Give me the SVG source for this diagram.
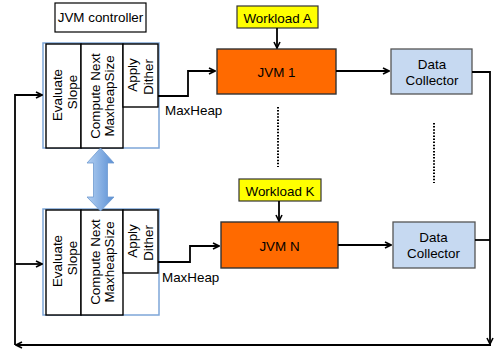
<svg xmlns="http://www.w3.org/2000/svg" width="494" height="351" viewBox="0 0 494 351">
  <style>
    text { font-family: "Liberation Sans", Arial, sans-serif; font-size: 13.4px; fill: #000; }
    .mid { text-anchor: middle; }
    .wire { fill: none; stroke: #000; stroke-width: 1.8; }
    .dots { fill: none; stroke: #000; stroke-width: 2; stroke-dasharray: 1.5 1.6; }
    .frame { fill: #fff; stroke: #7ea6d8; stroke-width: 1.5; }
    .cell { fill: #fff; stroke: #000; stroke-width: 1.4; }
    .jvm { fill: #ff6a00; stroke: #333; stroke-width: 1.4; }
    .dc { fill: #c6d9f1; stroke: #555; stroke-width: 1.3; }
    .wl { fill: #ffff00; stroke: #333; stroke-width: 1.2; }
    .label { fill: #fff; stroke: #000; stroke-width: 1.2; }
  </style>
  <defs>
    <marker id="arr" viewBox="0 0 8 8" refX="7" refY="4" markerWidth="8" markerHeight="8" markerUnits="userSpaceOnUse" orient="auto">
      <path d="M1,1 L7,4 L1,7" fill="none" stroke="#000" stroke-width="1.6"/>
    </marker>
    <linearGradient id="blueGrad" x1="0" y1="0" x2="1" y2="0">
      <stop offset="0" stop-color="#b3d0f2"/>
      <stop offset="1" stop-color="#5a8fd4"/>
    </linearGradient>
  </defs>

  <!-- title -->
  <g id="title">
    <rect class="label" x="55" y="3" width="91" height="29"/>
    <text class="mid" x="100.5" y="22">JVM controller</text>
  </g>

  <!-- controller 1 -->
  <g id="controller1">
    <rect class="frame" x="43" y="43" width="116" height="105"/>
    <rect class="cell" x="46" y="44" width="35" height="104"/>
    <rect class="cell" x="81" y="44" width="42" height="104"/>
    <rect class="cell" x="123" y="44" width="35" height="63"/>
    <text class="mid" transform="translate(62,95) rotate(-90)">Evaluate</text>
    <text class="mid" transform="translate(77,92) rotate(-90)">Slope</text>
    <text class="mid" transform="translate(99.5,96) rotate(-90)">Compute Next</text>
    <text class="mid" transform="translate(114,96) rotate(-90)">MaxheapSize</text>
    <text class="mid" transform="translate(137,75) rotate(-90)">Apply</text>
    <text class="mid" transform="translate(153,77) rotate(-90)">Dither</text>
  </g>

  <!-- controller 2 -->
  <g id="controller2">
    <rect class="frame" x="43" y="209" width="116" height="106"/>
    <rect class="cell" x="46" y="210" width="35" height="105"/>
    <rect class="cell" x="81" y="210" width="42" height="105"/>
    <rect class="cell" x="123" y="210" width="35" height="63"/>
    <text class="mid" transform="translate(62,261) rotate(-90)">Evaluate</text>
    <text class="mid" transform="translate(77,258) rotate(-90)">Slope</text>
    <text class="mid" transform="translate(99.5,262) rotate(-90)">Compute Next</text>
    <text class="mid" transform="translate(114,262) rotate(-90)">MaxheapSize</text>
    <text class="mid" transform="translate(137,241) rotate(-90)">Apply</text>
    <text class="mid" transform="translate(153,243) rotate(-90)">Dither</text>
  </g>

  <!-- state exchange between controllers -->
  <g id="sync">
    <path d="M100.5,148 L114,163 L107.5,163 L107.5,197 L114,197 L100.5,211 L87,197 L93.5,197 L93.5,163 L87,163 Z" fill="url(#blueGrad)" stroke="#6f9bd1" stroke-width="0.8"/>
  </g>

  <g id="workloadA">
    <rect class="wl" x="237" y="6" width="81" height="22"/>
    <text class="mid" x="277.5" y="22.5">Workload A</text>
  </g>
  <g id="jvm1">
    <rect class="jvm" x="217" y="49" width="119" height="45"/>
    <text class="mid" x="276.5" y="76.5">JVM 1</text>
  </g>
  <g id="collector1">
    <rect class="dc" x="391" y="49" width="81" height="45"/>
    <text class="mid" x="432" y="68.5">Data</text>
    <text class="mid" x="432" y="84.5">Collector</text>
  </g>

  <g id="workloadK">
    <rect class="wl" x="239" y="179" width="82" height="22"/>
    <text class="mid" x="280" y="196">Workload K</text>
  </g>
  <g id="jvmN">
    <rect class="jvm" x="221" y="222" width="117" height="46"/>
    <text class="mid" x="279.5" y="250.5">JVM N</text>
  </g>
  <g id="collector2">
    <rect class="dc" x="393" y="222" width="82" height="46"/>
    <text class="mid" x="433.5" y="242">Data</text>
    <text class="mid" x="433.5" y="258">Collector</text>
  </g>

  <g id="connectors">
    <!-- heap size commands -->
    <path class="wire" d="M158,96 H188 V71 H215" marker-end="url(#arr)"/>
    <path class="wire" d="M158,262 H190 V246 H219" marker-end="url(#arr)"/>
    <!-- workloads -->
    <path class="wire" d="M277,28 V48" marker-end="url(#arr)"/>
    <path class="wire" d="M279,201 V221" marker-end="url(#arr)"/>
    <!-- JVM to collectors -->
    <path class="wire" d="M336,71 H389" marker-end="url(#arr)"/>
    <path class="wire" d="M338,245 H391" marker-end="url(#arr)"/>
    <!-- feedback loop -->
    <path class="wire" d="M472,72 H490 V344" marker-end="url(#arr)"/>
    <path class="wire" d="M475,240 H490"/>
    <path class="wire" d="M491,345 H16" marker-end="url(#arr)"/>
    <path class="wire" d="M15,345 V95 H42" marker-end="url(#arr)"/>
    <path class="wire" d="M15,264 H42" marker-end="url(#arr)"/>
    <!-- elided instances -->
    <path class="dots" d="M278,107 V167"/>
    <path class="dots" d="M434,123 V183"/>
    <!-- labels -->
    <text x="165" y="115">MaxHeap</text>
    <text x="162" y="282">MaxHeap</text>
  </g>
</svg>
